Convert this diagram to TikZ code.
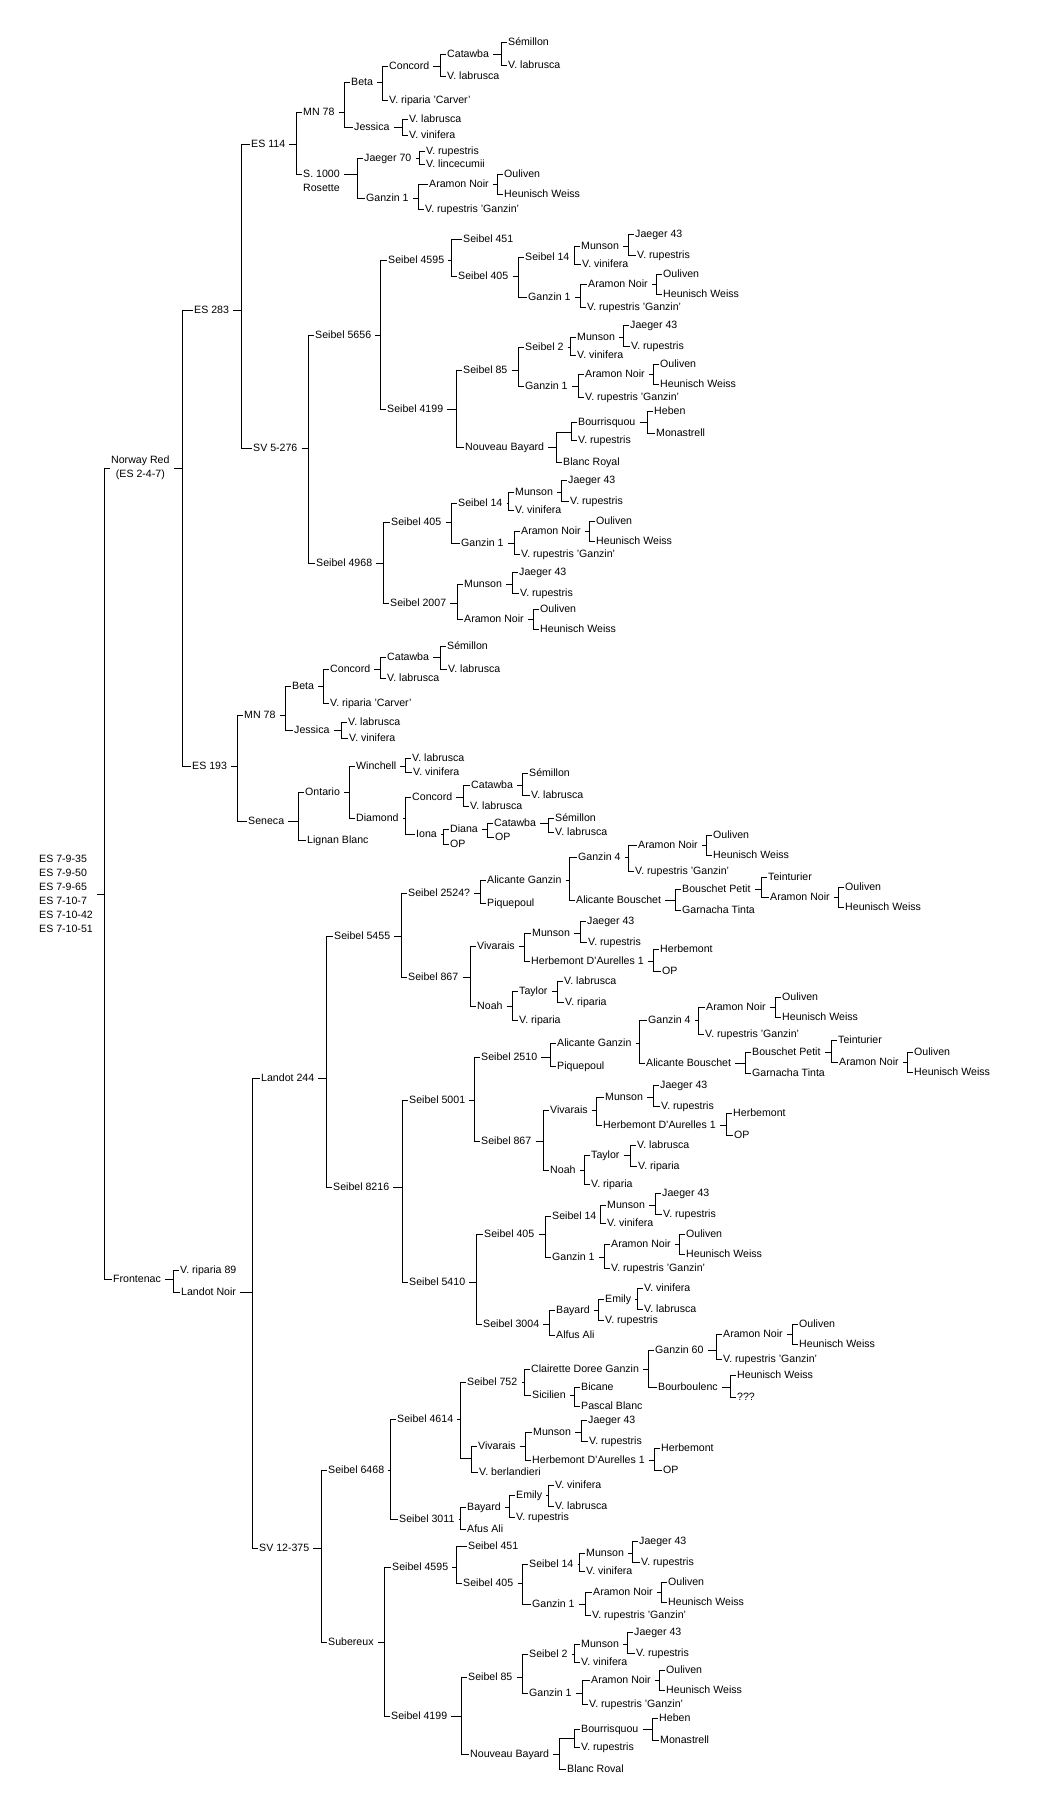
\documentclass[tikz,border=0pt]{standalone}
\usepackage{fontspec}
\setmainfont{Liberation Sans}
\usetikzlibrary{calc}

% bracket from a cultivar to its two parents
\newcommand{\cross}[4][6pt]{%
  \draw[link] ([xshift=3pt]#2.east) -- ([xshift=-#1]#2.east -| #3.west);
  \draw[link] (#3.west) -- ++(-#1,0) |- (#4.west);}
% bracket from an unnamed cross point
\newcommand{\jcross}[3]{%
  \draw[link] (#1) -- ([xshift=-6pt]#1 -| #2.west);
  \draw[link] (#2.west) -- ++(-6pt,0) |- (#3.west);}

\begin{document}
\begin{tikzpicture}[x=1pt, y=-1pt,
    % Define styles
    grape/.style={anchor=west, inner sep=1pt, font=\fontsize{10.6}{14}\selectfont, text height=8pt, text depth=1.5pt},
    block/.style={anchor=west, inner sep=1pt, font=\fontsize{10.6}{14}\selectfont},
    knot/.style={inner sep=0pt, minimum size=0pt},
    link/.style={line width=0.9pt},
    ]
    \useasboundingbox (0,0) rectangle (1045,1800);

    % Root and first generations
    \node[block, align=left] (root) at (38,894) {ES 7-9-35\\ES 7-9-50\\ES 7-9-65\\ES 7-10-7\\ES 7-10-42\\ES 7-10-51};
    \node[block, align=center] (norway) at (110,468) {Norway Red\\(ES 2-4-7)};
    \node[grape] (fronte) at (112,1279) {Frontenac};
    \cross{root}{norway}{fronte}

    \node[grape] (es283) at (193,310) {ES 283};
    \node[grape] (es193) at (191,766) {ES 193};
    \cross[11pt]{norway}{es283}{es193}

    \node[grape] (es114) at (250,144) {ES 114};
    \node[grape] (sv5) at (252,448) {SV 5-276};
    \cross[9pt]{es283}{es114}{sv5}

    % ES 114
    \node[grape] (a_mn) at (302,112) {MN 78};
    \node[grape] (a_s1000) at (302,174) {S. 1000};
    \node[grape] (a_ros) at (302,188) {Rosette};
    \cross{es114}{a_mn}{a_s1000}
    \node[grape] (a_beta) at (350,82) {Beta};
    \node[grape] (a_jess) at (353,127) {Jessica};
    \cross{a_mn}{a_beta}{a_jess}
    \node[grape] (a_conc) at (388,66) {Concord};
    \node[grape] (a_carv) at (388,100) {V. riparia 'Carver'};
    \cross{a_beta}{a_conc}{a_carv}
    \node[grape] (a_cat) at (446,54) {Catawba};
    \node[grape] (a_lab1) at (446,76) {V. labrusca};
    \cross{a_conc}{a_cat}{a_lab1}
    \node[grape] (a_sem) at (507,42) {Sémillon};
    \node[grape] (a_lab2) at (507,65) {V. labrusca};
    \cross{a_cat}{a_sem}{a_lab2}
    \node[grape] (a_lab3) at (408,119) {V. labrusca};
    \node[grape] (a_vin) at (408,135) {V. vinifera};
    \cross{a_jess}{a_lab3}{a_vin}
    \node[grape] (a_j70) at (363,158) {Jaeger 70};
    \node[grape] (a_gz1) at (365,198) {Ganzin 1};
    \cross{a_s1000}{a_j70}{a_gz1}
    \node[grape] (a_rup) at (425,151) {V. rupestris};
    \node[grape] (a_linc) at (425,164) {V. lincecumii};
    \cross{a_j70}{a_rup}{a_linc}
    \node[grape] (a_ara) at (428,184) {Aramon Noir};
    \node[grape] (a_rupg) at (424,209) {V. rupestris 'Ganzin'};
    \cross{a_gz1}{a_rupg}{a_ara}
    \node[grape] (a_oul) at (503,174) {Ouliven};
    \node[grape] (a_heu) at (503,194) {Heunisch Weiss};
    \cross{a_ara}{a_oul}{a_heu}

    % SV 5-276
    \node[grape] (b_5656) at (314,335) {Seibel 5656};
    \node[grape] (b_4968) at (315,563) {Seibel 4968};
    \cross{sv5}{b_5656}{b_4968}
    \node[grape] (b_4595) at (387,260) {Seibel 4595};
    \node[grape] (b_4199) at (386,409) {Seibel 4199};
    \cross{b_5656}{b_4199}{b_4595}
    \node[grape] (b_451) at (462,239) {Seibel 451};
    \node[grape] (b_405) at (457,276) {Seibel 405};
    \cross{b_4595}{b_405}{b_451}
    \node[grape] (b_s14) at (524,257) {Seibel 14};
    \node[grape] (b_gz1) at (527,297) {Ganzin 1};
    \cross{b_405}{b_s14}{b_gz1}
    \node[grape] (b_mun) at (580,246) {Munson};
    \node[grape] (b_vin) at (581,264) {V. vinifera};
    \cross{b_s14}{b_mun}{b_vin}
    \node[grape] (b_j43) at (634,234) {Jaeger 43};
    \node[grape] (b_rup) at (636,255) {V. rupestris};
    \cross{b_mun}{b_j43}{b_rup}
    \node[grape] (b_ara) at (587,284) {Aramon Noir};
    \node[grape] (b_rupg) at (586,307) {V. rupestris 'Ganzin'};
    \cross{b_gz1}{b_rupg}{b_ara}
    \node[grape] (b_oul) at (662,274) {Ouliven};
    \node[grape] (b_heu) at (662,294) {Heunisch Weiss};
    \cross{b_ara}{b_oul}{b_heu}

    \node[grape] (b_85) at (462,370) {Seibel 85};
    \node[grape] (b_nb) at (464,447) {Nouveau Bayard};
    \cross{b_4199}{b_85}{b_nb}
    \node[grape] (b_s2) at (524,347) {Seibel 2};
    \node[grape] (b_gz1b) at (524,386) {Ganzin 1};
    \cross{b_85}{b_s2}{b_gz1b}
    \node[grape] (b_mun2) at (576,337) {Munson};
    \node[grape] (b_vin2) at (576,355) {V. vinifera};
    \cross{b_s2}{b_mun2}{b_vin2}
    \node[grape] (b_j43b) at (629,325) {Jaeger 43};
    \node[grape] (b_rup2) at (630,346) {V. rupestris};
    \cross{b_mun2}{b_j43b}{b_rup2}
    \node[grape] (b_ara2) at (584,374) {Aramon Noir};
    \node[grape] (b_rupg2) at (584,397) {V. rupestris 'Ganzin'};
    \cross{b_gz1b}{b_ara2}{b_rupg2}
    \node[grape] (b_oul2) at (659,364) {Ouliven};
    \node[grape] (b_heu2) at (659,384) {Heunisch Weiss};
    \cross{b_ara2}{b_oul2}{b_heu2}
    \node[knot] (b_j) at (563,432) {};
    \node[grape] (b_blanc) at (562,462) {Blanc Royal};
    \cross{b_nb}{b_j}{b_blanc}
    \node[grape] (b_bour) at (577,422) {Bourrisquou};
    \node[grape] (b_rupj) at (577,440) {V. rupestris};
    \jcross{b_j}{b_bour}{b_rupj}
    \node[grape] (b_heb) at (653,411) {Heben};
    \node[grape] (b_mon) at (655,433) {Monastrell};
    \cross{b_bour}{b_heb}{b_mon}

    \node[grape] (b_405b) at (390,522) {Seibel 405};
    \node[grape] (b_2007) at (389,603) {Seibel 2007};
    \cross{b_4968}{b_2007}{b_405b}
    \node[grape] (b_s14b) at (457,503) {Seibel 14};
    \node[grape] (b_gz1c) at (460,543) {Ganzin 1};
    \cross{b_405b}{b_s14b}{b_gz1c}
    \node[grape] (b_mun3) at (514,492) {Munson};
    \node[grape] (b_vin3) at (514,510) {V. vinifera};
    \cross{b_s14b}{b_mun3}{b_vin3}
    \node[grape] (b_j43c) at (567,480) {Jaeger 43};
    \node[grape] (b_rup3) at (569,501) {V. rupestris};
    \cross{b_mun3}{b_j43c}{b_rup3}
    \node[grape] (b_ara3) at (520,531) {Aramon Noir};
    \node[grape] (b_rupg3) at (520,554) {V. rupestris 'Ganzin'};
    \cross{b_gz1c}{b_ara3}{b_rupg3}
    \node[grape] (b_oul3) at (595,521) {Ouliven};
    \node[grape] (b_heu3) at (595,541) {Heunisch Weiss};
    \cross{b_ara3}{b_oul3}{b_heu3}
    \node[grape] (b_mun4) at (463,584) {Munson};
    \node[grape] (b_ara4) at (463,619) {Aramon Noir};
    \cross{b_2007}{b_mun4}{b_ara4}
    \node[grape] (b_j43d) at (518,572) {Jaeger 43};
    \node[grape] (b_rup4) at (519,593) {V. rupestris};
    \cross{b_mun4}{b_j43d}{b_rup4}
    \node[grape] (b_oul4) at (539,609) {Ouliven};
    \node[grape] (b_heu4) at (539,629) {Heunisch Weiss};
    \cross{b_ara4}{b_oul4}{b_heu4}

    % ES 193
    \node[grape] (c_mn) at (243,715) {MN 78};
    \node[grape] (c_sen) at (247,821) {Seneca};
    \cross{es193}{c_mn}{c_sen}
    \node[grape] (c_beta) at (291,686) {Beta};
    \node[grape] (c_jess) at (293,730) {Jessica};
    \cross{c_mn}{c_beta}{c_jess}
    \node[grape] (c_conc) at (329,669) {Concord};
    \node[grape] (c_carv) at (329,703) {V. riparia 'Carver'};
    \cross{c_beta}{c_conc}{c_carv}
    \node[grape] (c_cat) at (386,657) {Catawba};
    \node[grape] (c_lab1) at (386,678) {V. labrusca};
    \cross{c_conc}{c_cat}{c_lab1}
    \node[grape] (c_sem) at (446,646) {Sémillon};
    \node[grape] (c_lab2) at (447,669) {V. labrusca};
    \cross{c_cat}{c_sem}{c_lab2}
    \node[grape] (c_lab3) at (347,722) {V. labrusca};
    \node[grape] (c_vin) at (348,738) {V. vinifera};
    \cross{c_jess}{c_lab3}{c_vin}
    \node[grape] (c_ont) at (304,792) {Ontario};
    \node[grape] (c_lig) at (306,840) {Lignan Blanc};
    \cross{c_sen}{c_ont}{c_lig}
    \node[grape] (c_win) at (355,766) {Winchell};
    \node[grape] (c_dia) at (355,818) {Diamond};
    \cross{c_ont}{c_win}{c_dia}
    \node[grape] (c_lab4) at (411,758) {V. labrusca};
    \node[grape] (c_vin2) at (412,772) {V. vinifera};
    \cross{c_win}{c_lab4}{c_vin2}
    \node[grape] (c_conc2) at (411,797) {Concord};
    \node[grape] (c_iona) at (415,834) {Iona};
    \cross{c_dia}{c_conc2}{c_iona}
    \node[grape] (c_cat2) at (470,785) {Catawba};
    \node[grape] (c_lab5) at (469,806) {V. labrusca};
    \cross{c_conc2}{c_lab5}{c_cat2}
    \node[grape] (c_sem2) at (528,773) {Sémillon};
    \node[grape] (c_lab6) at (530,795) {V. labrusca};
    \cross{c_cat2}{c_sem2}{c_lab6}
    \node[grape] (c_dian) at (449,829) {Diana};
    \node[grape] (c_op) at (449,844) {OP};
    \cross{c_iona}{c_dian}{c_op}
    \node[grape] (c_cat3) at (493,823) {Catawba};
    \node[grape] (c_op2) at (494,837) {OP};
    \cross{c_dian}{c_cat3}{c_op2}
    \node[grape] (c_sem3) at (554,818) {Sémillon};
    \node[grape] (c_lab7) at (554,832) {V. labrusca};
    \cross{c_cat3}{c_sem3}{c_lab7}

    % Frontenac
    \node[grape] (d_rip) at (179,1270) {V. riparia 89};
    \node[grape] (d_lnoir) at (180,1292) {Landot Noir};
    \cross{fronte}{d_rip}{d_lnoir}
    \node[grape] (d_l244) at (260,1078) {Landot 244};
    \node[grape] (d_sv12) at (258,1548) {SV 12-375};
    \cross{d_lnoir}{d_sv12}{d_l244}

    % Landot 244
    \node[grape] (e_5455) at (333,936) {Seibel 5455};
    \node[grape] (e_8216) at (332,1187) {Seibel 8216};
    \cross{d_l244}{e_8216}{e_5455}
    \node[grape] (e_2524) at (407,893) {Seibel 2524?};
    \node[grape] (e_867) at (407,977) {Seibel 867};
    \cross{e_5455}{e_2524}{e_867}
    \node[grape] (e_ag) at (486,880) {Alicante Ganzin};
    \node[grape] (e_piq) at (486,903) {Piquepoul};
    \cross{e_2524}{e_ag}{e_piq}
    \node[grape] (e_gz4) at (577,857) {Ganzin 4};
    \node[grape] (e_ab) at (575,900) {Alicante Bouschet};
    \cross{e_ag}{e_ab}{e_gz4}
    \node[grape] (e_ara) at (637,845) {Aramon Noir};
    \node[grape] (e_rupg) at (634,871) {V. rupestris 'Ganzin'};
    \cross{e_gz4}{e_rupg}{e_ara}
    \node[grape] (e_oul) at (712,835) {Ouliven};
    \node[grape] (e_heu) at (712,855) {Heunisch Weiss};
    \cross{e_ara}{e_oul}{e_heu}
    \node[grape] (e_bp) at (681,889) {Bouschet Petit};
    \node[grape] (e_gt) at (681,910) {Garnacha Tinta};
    \cross{e_ab}{e_bp}{e_gt}
    \node[grape] (e_tein) at (767,877) {Teinturier};
    \node[grape] (e_ara2) at (769,897) {Aramon Noir};
    \cross{e_bp}{e_tein}{e_ara2}
    \node[grape] (e_oul2) at (844,887) {Ouliven};
    \node[grape] (e_heu2) at (844,907) {Heunisch Weiss};
    \cross{e_ara2}{e_oul2}{e_heu2}
    \node[grape] (e_viv) at (476,946) {Vivarais};
    \node[grape] (e_noah) at (476,1006) {Noah};
    \cross{e_867}{e_viv}{e_noah}
    \node[grape] (e_mun) at (531,933) {Munson};
    \node[grape] (e_hda) at (530,961) {Herbemont D'Aurelles 1};
    \cross{e_viv}{e_hda}{e_mun}
    \node[grape] (e_j43) at (586,921) {Jaeger 43};
    \node[grape] (e_rup) at (587,942) {V. rupestris};
    \cross{e_mun}{e_j43}{e_rup}
    \node[grape] (e_herb) at (659,949) {Herbemont};
    \node[grape] (e_op) at (661,971) {OP};
    \cross{e_hda}{e_herb}{e_op}
    \node[grape] (e_tay) at (518,991) {Taylor};
    \node[grape] (e_rip) at (518,1020) {V. riparia};
    \cross{e_noah}{e_tay}{e_rip}
    \node[grape] (e_lab) at (563,981) {V. labrusca};
    \node[grape] (e_rip2) at (564,1002) {V. riparia};
    \cross{e_tay}{e_lab}{e_rip2}

    \node[grape] (e_5001) at (408,1100) {Seibel 5001};
    \node[grape] (e_5410) at (408,1282) {Seibel 5410};
    \cross{e_8216}{e_5001}{e_5410}
    \node[grape] (e_2510) at (480,1057) {Seibel 2510};
    \node[grape] (e_867b) at (480,1141) {Seibel 867};
    \cross{e_5001}{e_2510}{e_867b}
    \node[grape] (e_ag2) at (556,1043) {Alicante Ganzin};
    \node[grape] (e_piq2) at (556,1066) {Piquepoul};
    \cross{e_2510}{e_ag2}{e_piq2}
    \node[grape] (e_gz4b) at (647,1020) {Ganzin 4};
    \node[grape] (e_ab2) at (645,1063) {Alicante Bouschet};
    \cross{e_ag2}{e_ab2}{e_gz4b}
    \node[grape] (e_ara3) at (705,1007) {Aramon Noir};
    \node[grape] (e_rupg2) at (704,1034) {V. rupestris 'Ganzin'};
    \cross{e_gz4b}{e_rupg2}{e_ara3}
    \node[grape] (e_oul3) at (781,997) {Ouliven};
    \node[grape] (e_heu3) at (781,1017) {Heunisch Weiss};
    \cross{e_ara3}{e_oul3}{e_heu3}
    \node[grape] (e_bp2) at (751,1052) {Bouschet Petit};
    \node[grape] (e_gt2) at (751,1073) {Garnacha Tinta};
    \cross{e_ab2}{e_bp2}{e_gt2}
    \node[grape] (e_tein2) at (837,1040) {Teinturier};
    \node[grape] (e_ara4) at (838,1062) {Aramon Noir};
    \cross{e_bp2}{e_tein2}{e_ara4}
    \node[grape] (e_oul4) at (913,1052) {Ouliven};
    \node[grape] (e_heu4) at (913,1072) {Heunisch Weiss};
    \cross{e_ara4}{e_oul4}{e_heu4}
    \node[grape] (e_viv2) at (549,1110) {Vivarais};
    \node[grape] (e_noah2) at (549,1170) {Noah};
    \cross{e_867b}{e_viv2}{e_noah2}
    \node[grape] (e_mun2) at (604,1097) {Munson};
    \node[grape] (e_hda2) at (602,1125) {Herbemont D'Aurelles 1};
    \cross{e_viv2}{e_hda2}{e_mun2}
    \node[grape] (e_j43b) at (659,1085) {Jaeger 43};
    \node[grape] (e_rup2) at (660,1106) {V. rupestris};
    \cross{e_mun2}{e_j43b}{e_rup2}
    \node[grape] (e_herb2) at (732,1113) {Herbemont};
    \node[grape] (e_op2) at (733,1135) {OP};
    \cross{e_hda2}{e_herb2}{e_op2}
    \node[grape] (e_tay2) at (590,1155) {Taylor};
    \node[grape] (e_rip3) at (590,1184) {V. riparia};
    \cross{e_noah2}{e_tay2}{e_rip3}
    \node[grape] (e_lab2) at (636,1145) {V. labrusca};
    \node[grape] (e_rip4) at (637,1166) {V. riparia};
    \cross{e_tay2}{e_lab2}{e_rip4}

    \node[grape] (e_405) at (483,1234) {Seibel 405};
    \node[grape] (e_3004) at (482,1324) {Seibel 3004};
    \cross{e_5410}{e_3004}{e_405}
    \node[grape] (e_s14) at (551,1216) {Seibel 14};
    \node[grape] (e_gz1) at (551,1257) {Ganzin 1};
    \cross{e_405}{e_s14}{e_gz1}
    \node[grape] (e_mun3) at (606,1205) {Munson};
    \node[grape] (e_vin) at (606,1223) {V. vinifera};
    \cross{e_s14}{e_mun3}{e_vin}
    \node[grape] (e_j43c) at (661,1193) {Jaeger 43};
    \node[grape] (e_rup3) at (662,1214) {V. rupestris};
    \cross{e_mun3}{e_j43c}{e_rup3}
    \node[grape] (e_ara5) at (610,1244) {Aramon Noir};
    \node[grape] (e_rupg3) at (610,1268) {V. rupestris 'Ganzin'};
    \cross{e_gz1}{e_ara5}{e_rupg3}
    \node[grape] (e_oul5) at (685,1234) {Ouliven};
    \node[grape] (e_heu5) at (685,1254) {Heunisch Weiss};
    \cross{e_ara5}{e_oul5}{e_heu5}
    \node[grape] (e_bay) at (555,1310) {Bayard};
    \node[grape] (e_alf) at (555,1335) {Alfus Ali};
    \cross{e_3004}{e_bay}{e_alf}
    \node[grape] (e_emi) at (604,1299) {Emily};
    \node[grape] (e_rup4) at (604,1320) {V. rupestris};
    \cross{e_bay}{e_emi}{e_rup4}
    \node[grape] (e_vin2) at (643,1288) {V. vinifera};
    \node[grape] (e_lab3) at (643,1309) {V. labrusca};
    \cross{e_emi}{e_vin2}{e_lab3}

    % SV 12-375
    \node[grape] (f_6468) at (327,1470) {Seibel 6468};
    \node[grape] (f_sub) at (327,1642) {Subereux};
    \cross{d_sv12}{f_6468}{f_sub}
    \node[grape] (f_4614) at (396,1419) {Seibel 4614};
    \node[grape] (f_3011) at (398,1519) {Seibel 3011};
    \cross{f_6468}{f_4614}{f_3011}
    \node[grape] (f_752) at (466,1382) {Seibel 752};
    \node[knot] (f_j) at (466,1458) {};
    \cross{f_4614}{f_752}{f_j}
    \node[grape] (f_viv) at (477,1446) {Vivarais};
    \node[grape] (f_ber) at (478,1472) {V. berlandieri};
    \jcross{f_j}{f_viv}{f_ber}
    \node[grape] (f_cdg) at (530,1369) {Clairette Doree Ganzin};
    \node[grape] (f_sic) at (531,1395) {Sicilien};
    \cross{f_752}{f_cdg}{f_sic}
    \node[grape] (f_gz60) at (654,1350) {Ganzin 60};
    \node[grape] (f_bour) at (657,1387) {Bourboulenc};
    \cross{f_cdg}{f_gz60}{f_bour}
    \node[grape] (f_ara) at (722,1334) {Aramon Noir};
    \node[grape] (f_rupg) at (722,1359) {V. rupestris 'Ganzin'};
    \cross{f_gz60}{f_ara}{f_rupg}
    \node[grape] (f_oul) at (798,1324) {Ouliven};
    \node[grape] (f_heu) at (798,1344) {Heunisch Weiss};
    \cross{f_ara}{f_oul}{f_heu}
    \node[grape] (f_heu2) at (736,1375) {Heunisch Weiss};
    \node[grape] (f_unk) at (736,1397) {???};
    \cross{f_bour}{f_heu2}{f_unk}
    \node[grape] (f_bic) at (580,1387) {Bicane};
    \node[grape] (f_pas) at (580,1406) {Pascal Blanc};
    \cross{f_sic}{f_bic}{f_pas}
    \node[grape] (f_mun) at (532,1432) {Munson};
    \node[grape] (f_hda) at (531,1460) {Herbemont D'Aurelles 1};
    \cross{f_viv}{f_hda}{f_mun}
    \node[grape] (f_j43) at (587,1420) {Jaeger 43};
    \node[grape] (f_rup) at (588,1441) {V. rupestris};
    \cross{f_mun}{f_j43}{f_rup}
    \node[grape] (f_herb) at (660,1448) {Herbemont};
    \node[grape] (f_op) at (662,1470) {OP};
    \cross{f_hda}{f_herb}{f_op}
    \node[grape] (f_bay) at (466,1507) {Bayard};
    \node[grape] (f_afus) at (466,1529) {Afus Ali};
    \cross{f_3011}{f_bay}{f_afus}
    \node[grape] (f_emi) at (515,1495) {Emily};
    \node[grape] (f_rup2) at (515,1517) {V. rupestris};
    \cross{f_bay}{f_emi}{f_rup2}
    \node[grape] (f_vin) at (554,1485) {V. vinifera};
    \node[grape] (f_lab) at (554,1506) {V. labrusca};
    \cross{f_emi}{f_vin}{f_lab}

    \node[grape] (f_4595) at (391,1567) {Seibel 4595};
    \node[grape] (f_4199) at (390,1716) {Seibel 4199};
    \cross{f_sub}{f_4199}{f_4595}
    \node[grape] (f_451) at (467,1546) {Seibel 451};
    \node[grape] (f_405) at (462,1583) {Seibel 405};
    \cross{f_4595}{f_405}{f_451}
    \node[grape] (f_s14) at (528,1564) {Seibel 14};
    \node[grape] (f_gz1) at (531,1604) {Ganzin 1};
    \cross{f_405}{f_s14}{f_gz1}
    \node[grape] (f_mun2) at (585,1553) {Munson};
    \node[grape] (f_vin2) at (585,1571) {V. vinifera};
    \cross{f_s14}{f_mun2}{f_vin2}
    \node[grape] (f_j43b) at (638,1541) {Jaeger 43};
    \node[grape] (f_rup3) at (640,1562) {V. rupestris};
    \cross{f_mun2}{f_j43b}{f_rup3}
    \node[grape] (f_ara2) at (592,1592) {Aramon Noir};
    \node[grape] (f_rupg2) at (591,1615) {V. rupestris 'Ganzin'};
    \cross{f_gz1}{f_rupg2}{f_ara2}
    \node[grape] (f_oul2) at (667,1582) {Ouliven};
    \node[grape] (f_heu3) at (667,1602) {Heunisch Weiss};
    \cross{f_ara2}{f_oul2}{f_heu3}
    \node[grape] (f_85) at (467,1677) {Seibel 85};
    \node[grape] (f_nb) at (469,1754) {Nouveau Bayard};
    \cross{f_4199}{f_85}{f_nb}
    \node[grape] (f_s2) at (528,1654) {Seibel 2};
    \node[grape] (f_gz1b) at (528,1693) {Ganzin 1};
    \cross{f_85}{f_s2}{f_gz1b}
    \node[grape] (f_mun3) at (580,1644) {Munson};
    \node[grape] (f_vin3) at (580,1662) {V. vinifera};
    \cross{f_s2}{f_mun3}{f_vin3}
    \node[grape] (f_j43c) at (633,1632) {Jaeger 43};
    \node[grape] (f_rup4) at (635,1653) {V. rupestris};
    \cross{f_mun3}{f_j43c}{f_rup4}
    \node[grape] (f_ara3) at (590,1680) {Aramon Noir};
    \node[grape] (f_rupg3) at (588,1704) {V. rupestris 'Ganzin'};
    \cross{f_gz1b}{f_rupg3}{f_ara3}
    \node[grape] (f_oul3) at (665,1670) {Ouliven};
    \node[grape] (f_heu4) at (665,1690) {Heunisch Weiss};
    \cross{f_ara3}{f_oul3}{f_heu4}
    \node[knot] (f_nbj) at (566,1738) {};
    \node[grape] (f_blanc) at (566,1769) {Blanc Roval};
    \cross{f_nb}{f_nbj}{f_blanc}
    \node[grape] (f_bour2) at (580,1729) {Bourrisquou};
    \node[grape] (f_rup5) at (580,1747) {V. rupestris};
    \jcross{f_nbj}{f_bour2}{f_rup5}
    \node[grape] (f_heb) at (658,1718) {Heben};
    \node[grape] (f_mon) at (659,1740) {Monastrell};
    \cross{f_bour2}{f_heb}{f_mon}

\end{tikzpicture}
\end{document}
